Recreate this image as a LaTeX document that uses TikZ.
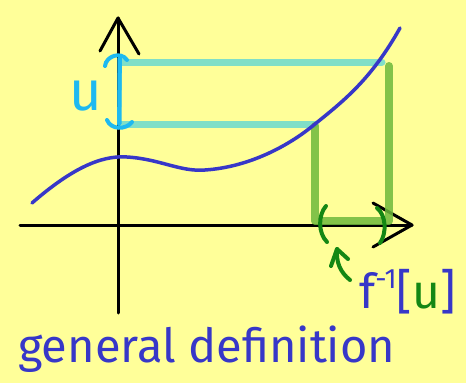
\documentclass[tikz,border=0pt]{standalone}
\usepackage{fontspec}
\setmainfont{Fira Sans}
\definecolor{bgyellow}{RGB}{255,255,153}
\definecolor{penblue}{RGB}{55,55,200}
\definecolor{guidecyan}{RGB}{115,220,205}
\definecolor{brightcyan}{RGB}{30,185,240}
\definecolor{guidegreen}{RGB}{110,185,60}
\definecolor{darkgreen}{RGB}{20,135,20}
\begin{document}
\begin{tikzpicture}[x=1pt,y=-1pt,
  axisline/.style={line width=3pt,black,line cap=round,line join=round},
  curveline/.style={line width=3.5pt,penblue,line cap=round},
  cyanguide/.style={line width=7pt,guidecyan,opacity=0.9,line cap=round},
  greenguide/.style={line width=8pt,guidegreen,opacity=0.85,line cap=round,line join=round},
  cyanpen/.style={line width=4pt,brightcyan,line cap=round},
  greenpen/.style={line width=4pt,darkgreen,line cap=round,line join=round},
  lbl/.style={inner sep=0pt,anchor=base west}]
\fill[bgyellow] (0,0) rectangle (466,383);
\useasboundingbox (0,0) rectangle (466,383);
% coordinates
\coordinate (ytop) at (118,18);
\coordinate (ybot) at (118,313);
\coordinate (xleft) at (20,225);
\coordinate (xtip) at (412,225);
\coordinate (pU) at (382,62);
\coordinate (pL) at (315,124);
% guides
\draw[cyanguide] (121,62) -- (pU);
\draw[cyanguide] (121,124) -- (pL);
% axes
\draw[axisline] (ybot) -- (ytop);
\draw[axisline] (100,51) -- (ytop) -- (139,54);
\draw[axisline] (xleft) -- (xtip);
\draw[axisline] (373,203) -- (xtip) -- (373,247);
% green guides
\draw[greenguide] (315,126) -- (315,221) -- (389,221) -- (389,66);
% curve
\draw[curveline] (32,203) .. controls (70,170) and (100,155) .. (127,157)
  .. controls (160,159) and (180,172) .. (205,170)
  .. controls (250,167) and (290,145) .. (pL)
  .. controls (345,100) and (372,78) .. (400,28);
% cyan bracket
\draw[brightcyan,line width=5pt,opacity=0.6] (119,58) -- (119,124);
\draw[cyanpen] (105,66) .. controls (106,56) and (121,51) .. (127,60);
\draw[cyanpen] (120,56) -- (119,124);
\draw[cyanpen] (107,120) .. controls (111,130) and (126,130) .. (132,122);
\node[lbl,text=brightcyan,font=\fontsize{56}{56}\selectfont] (ulabel) at (69,110) {u};
% green parens and arrow
\draw[greenpen] (326,206) .. controls (318,215) and (318,233) .. (327,242);
\draw[greenpen] (377,208) .. controls (386,215) and (387,233) .. (380,243);
\coordinate (arrtail) at (350,280);
\coordinate (arrtip) at (337,249);
\draw[greenpen] (arrtail) .. controls (340,272) and (336,262) .. (arrtip);
\draw[greenpen] (331,266) -- (arrtip) -- (348,259);
% preimage label
\node[lbl,text=penblue,font=\fontsize{48}{48}\selectfont] (finv) at (359,308)
  {f\raisebox{0.4em}{\fontsize{28}{28}\selectfont -1}[\textcolor{darkgreen}{u}]};
% caption
\node[lbl,text=penblue,font=\fontsize{47}{52}\selectfont] (caption) at (18,362) {general definition};
\end{tikzpicture}
\end{document}
